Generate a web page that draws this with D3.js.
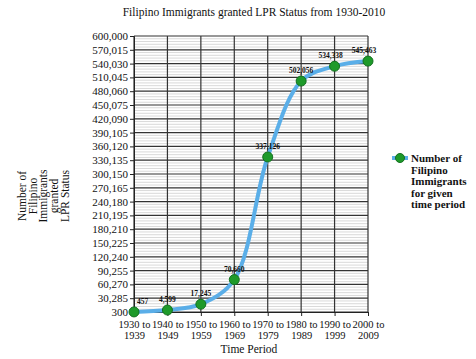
<!DOCTYPE html>
<html><head><meta charset="utf-8">
<script src="https://cdn.jsdelivr.net/npm/d3@7"></script>
<style>
body{margin:0;background:#fff;}
svg text{font-family:"Liberation Serif","Times New Roman",serif !important;fill:#111;}
</style></head>
<body><svg id="c" width="476" height="359"></svg>
<script>
const periods = [["1930 to","1939"],["1940 to","1949"],["1950 to","1959"],["1960 to","1969"],["1970 to","1979"],["1980 to","1989"],["1990 to","1999"],["2000 to","2009"]];
const values = [457, 4599, 17245, 70660, 337126, 502056, 534338, 545463];
const valueLabels = ["457","4,599","17,245","70,660","337,126","502,056","534,338","545,463"];
const yTicks = [300,30285,60270,90255,120240,150225,180210,210195,240180,270165,300150,330135,360120,390105,420090,450075,480060,510045,540030,570015,600000];
const title = "Filipino Immigrants granted LPR Status from 1930-2010";
const yTitle = ["Number of","Filipino","Immigrants","granted","LPR Status"];
const xTitle = "Time Period";
const legendLines = ["Number of","Filipino","Immigrants","for given","time period"];

const svg = d3.select("#c");
const L=134, R=368, T=36, B=312;
const x = d3.scalePoint().domain(d3.range(periods.length)).range([L,R]);
const y = d3.scaleLinear().domain([300,600000]).range([B,T]);

const minor=[];
for(let i=0;i<yTicks.length-1;i++){for(let k=1;k<5;k++){minor.push(yTicks[i]+(yTicks[i+1]-yTicks[i])*k/5);}}
svg.append("g").selectAll("line").data(minor).join("line")
 .attr("x1",L).attr("x2",R).attr("y1",d=>y(d)).attr("y2",d=>y(d))
 .attr("stroke","#cfcfcf").attr("stroke-width",0.8);
svg.append("g").selectAll("line").data(yTicks).join("line")
 .attr("x1",L).attr("x2",R).attr("y1",d=>y(d)).attr("y2",d=>y(d))
 .attr("stroke","#333").attr("stroke-width",1.2);
svg.append("g").selectAll("line").data(d3.range(periods.length)).join("line")
 .attr("x1",d=>x(d)).attr("x2",d=>x(d)).attr("y1",T).attr("y2",B)
 .attr("stroke","#333").attr("stroke-width",1.2);

const yAxis = svg.append("g").attr("transform",`translate(${L},0)`)
 .call(d3.axisLeft(y).tickValues(yTicks).tickFormat(d3.format(",")).tickSize(4).tickPadding(2));
yAxis.attr("font-family",null).attr("font-size",null);
yAxis.selectAll("text").style("font-size","11px");
yAxis.selectAll("line,path").attr("stroke","#222");

const xAxis = svg.append("g").attr("transform",`translate(0,${B})`)
 .call(d3.axisBottom(x).tickSize(4).tickFormat(""));
xAxis.attr("font-family",null).attr("font-size",null);
xAxis.selectAll("line,path").attr("stroke","#222");
xAxis.selectAll(".tick").each(function(d){
  const t=d3.select(this).append("text").attr("text-anchor","middle").style("font-size","10.5px");
  periods[d].forEach((s,i)=>t.append("tspan").attr("x",0).attr("y",16+i*11).text(s));
});

const pts = values.map((v,i)=>[x(i),y(v)]);
svg.append("path").attr("d",d3.line().curve(d3.curveCatmullRom.alpha(0.5))(pts))
 .attr("fill","none").attr("stroke","#5aaee8").attr("stroke-width",4).attr("stroke-linejoin","round");
svg.append("g").selectAll("circle").data(values).join("circle")
 .attr("cx",(d,i)=>x(i)).attr("cy",d=>y(d)).attr("r",5)
 .attr("fill","#1e9a2a").attr("stroke","#147020").attr("stroke-width",1);
svg.append("g").selectAll("text").data(values).join("text")
 .attr("x",(d,i)=>x(i)).attr("y",d=>y(d)-8)
 .attr("text-anchor",(d,i)=>i===0?"start":"middle").attr("dx",(d,i)=>i===0?3:(i>=6?-4:0))
 .style("font-size","7.5px").style("font-weight","bold")
 .text((d,i)=>valueLabels[i]);

svg.append("text").attr("x",254).attr("y",16).attr("text-anchor","middle")
 .style("font-size","11.5px").text(title);
svg.append("text").attr("x",249).attr("y",353).attr("text-anchor","middle")
 .style("font-size","11.5px").text(xTitle);
const yt = svg.append("text").attr("transform","translate(26,196) rotate(-90)")
 .attr("text-anchor","middle").style("font-size","11.5px");
yTitle.forEach((s,i)=>yt.append("tspan").attr("x",0).attr("y",i*10.7).text(s));

const lg = svg.append("g").attr("transform","translate(400,158)");
lg.append("line").attr("x1",-8).attr("x2",8).attr("stroke","#5aaee8").attr("stroke-width",4);
lg.append("circle").attr("r",4.5).attr("fill","#1e9a2a").attr("stroke","#147020");
const lt = lg.append("text").style("font-size","11px").style("font-weight","bold");
legendLines.forEach((s,i)=>lt.append("tspan").attr("x",11).attr("y",4+i*11.5).text(s));
</script></body></html>
